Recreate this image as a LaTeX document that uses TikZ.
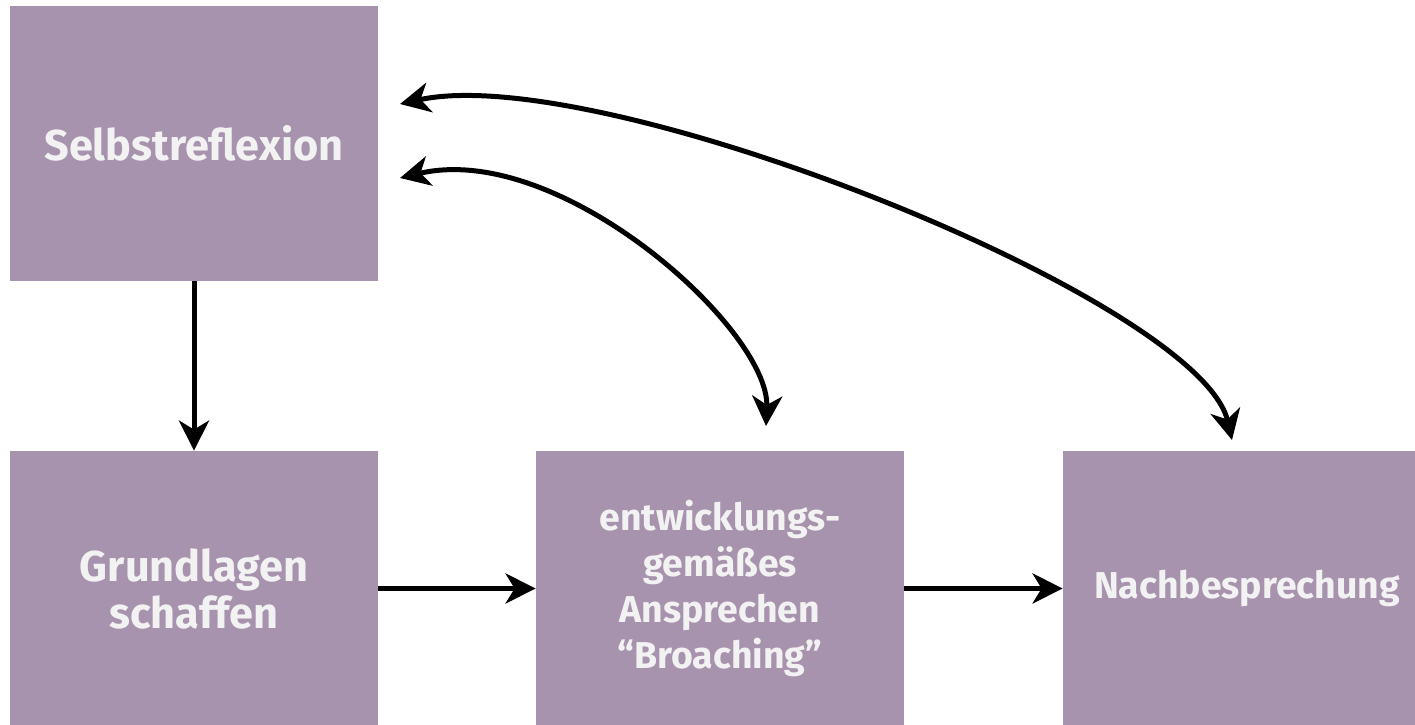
\documentclass[tikz,border=0pt]{standalone}
\usepackage{fontspec}
\setmainfont{Fira Sans}
\usetikzlibrary{arrows.meta}
\definecolor{boxfill}{HTML}{A893AE}
\definecolor{boxtext}{HTML}{F2F2F2}

\begin{document}
\begin{tikzpicture}[x=0.5pt,y=-0.5pt]
\tikzstyle{dep}= [-{Stealth[length=15pt,width=15pt,inset=4.5pt]},line width=2.5pt]
\tikzstyle{loop}= [{Stealth[length=15pt,width=15pt,inset=4.5pt]}-{Stealth[length=15pt,width=15pt,inset=4.5pt]},line width=2.5pt]
\tikzstyle{bb}= [rectangle,fill=boxfill,text=boxtext,inner sep=0pt,
	minimum width=184pt,minimum height=137.5pt,align=center,
	font=\bfseries\fontsize{18.7}{23}\selectfont]
\tikzstyle{big}= [font=\bfseries\fontsize{21.6}{23.5}\selectfont]

\useasboundingbox (0,0) rectangle (1415,724);
\clip (0,0) rectangle (1415,724);

\path
	( 194,143.5) node[bb,big] (sr) {Selbstreflexion}
	( 194,588.5) node[bb,big] (gl) {Grundlagen\\schaffen}
	( 720,588.5) node[bb] (eg) {entwicklungs-\\gemäßes\\Ansprechen\\“Broaching”}
	(1247,588.5) node[bb] (nb) {Nachbesprechung}
;
\coordinate (srA) at (400,104);
\coordinate (srB) at (400,178);
\coordinate (egT) at (766,426);
\coordinate (nbT) at (1232,440);

\draw[dep] (sr.south) -- (gl.north);
\draw[dep] (gl.east) -- (eg.west);
\draw[dep] (eg.east) -- (nb.west);
\draw[loop] (srB) .. controls (560,140) and (770,330) .. (egT);
\draw[loop] (srA) .. controls (600,60) and (1200,300) .. (nbT);
\end{tikzpicture}
\end{document}
